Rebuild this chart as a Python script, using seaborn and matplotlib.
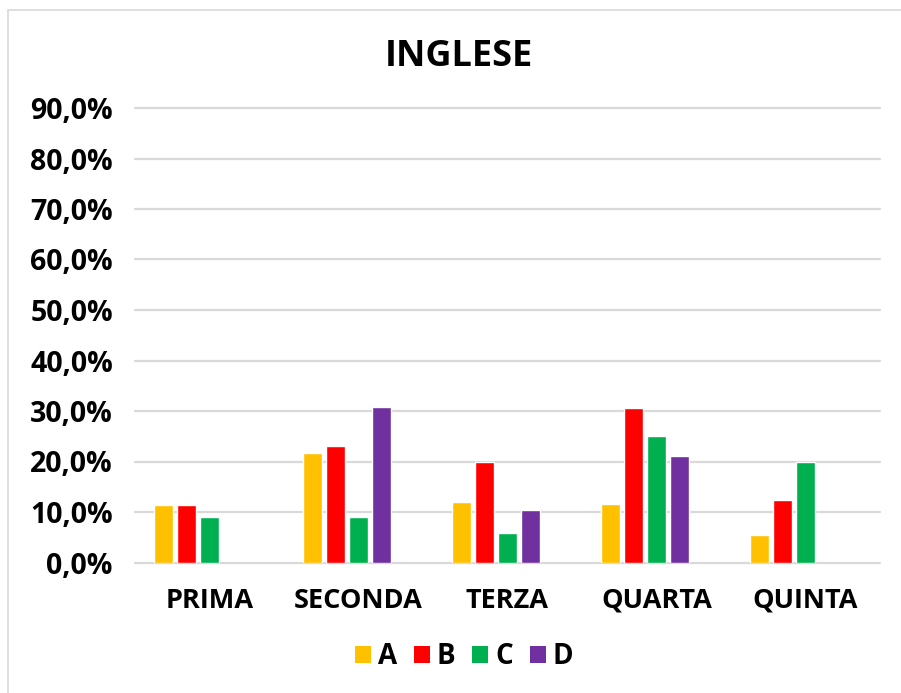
import numpy as np
import pandas as pd
import matplotlib
matplotlib.use("Agg")
import matplotlib.pyplot as plt
import seaborn as sns
from matplotlib.patches import Patch, Rectangle
from matplotlib.ticker import FuncFormatter

# values (fractions); D missing for PRIMA and QUINTA
classes = ["PRIMA", "SECONDA", "TERZA", "QUARTA", "QUINTA"]
level_a = [0.114, 0.217, 0.119, 0.116, 0.054]
level_b = [0.114, 0.230, 0.199, 0.305, 0.124]
level_c = [0.090, 0.090, 0.058, 0.250, 0.200]
level_d = [np.nan, 0.308, 0.104, 0.210, np.nan]
# the source chart keeps an empty fifth series slot
level_e = [np.nan] * 5

series = ["A", "B", "C", "D", "E"]
colors = {"A": "#FFC000", "B": "#FF0000", "C": "#00B050", "D": "#7030A0", "E": "#FFFFFF"}

df = pd.DataFrame({"classe": classes, "A": level_a, "B": level_b,
                   "C": level_c, "D": level_d, "E": level_e})
long = df.melt(id_vars="classe", var_name="livello", value_name="quota")

sns.set_style("white")
plt.rcParams["font.family"] = ["Open Sans", "DejaVu Sans"]
plt.rcParams["font.weight"] = "bold"
plt.rcParams["text.color"] = "black"
plt.rcParams["xtick.color"] = "black"
plt.rcParams["ytick.color"] = "black"

fig = plt.figure(figsize=(9.01, 6.93), dpi=100)
ax = fig.add_axes([135 / 901, (693 - 562.5) / 693, 745 / 901, 454.5 / 693])

sns.barplot(data=long, x="classe", y="quota", hue="livello", order=classes,
            hue_order=series, palette=colors, width=0.772, gap=0.18,
            saturation=1, legend=False, ax=ax)

ax.set_ylim(0, 0.9)
ax.set_xlim(-0.5, 4.5)
ax.set_yticks(np.arange(0, 0.91, 0.1))
ax.yaxis.set_major_formatter(FuncFormatter(lambda v, p: f"{v * 100:.1f}%".replace(".", ",")))
for t in np.arange(0, 0.91, 0.1):
    ax.axhline(t, color="#D9D9D9", lw=1.6, zorder=0, clip_on=False)
for s in ax.spines.values():
    s.set_visible(False)
ax.set_xlabel("")
ax.set_ylabel("")
ax.tick_params(axis="x", length=0, pad=18, labelsize=19.5)
ax.tick_params(axis="y", length=0, pad=16, labelsize=20.5)
for lbl in ax.get_xticklabels() + ax.get_yticklabels():
    lbl.set_fontweight("bold")

fig.text(459 / 901, 1 - 57 / 693, "INGLESE", ha="center", va="center",
         fontsize=26, fontweight="bold")

handles = [Patch(facecolor=colors[s], edgecolor="none", label=s) for s in series[:4]]
leg = fig.legend(handles=handles, loc="center", bbox_to_anchor=(464 / 901, 1 - 657 / 693),
                 ncol=4, frameon=False, handlelength=0.58, handleheight=0.58,
                 handletextpad=0.25, columnspacing=0.6, prop={"size": 20, "weight": "bold"})

# light frame around the chart area
fig.patches.append(Rectangle((8 / 901, -0.01), 1.0, 1 - 10 / 693 + 0.01,
                             transform=fig.transFigure, fill=False,
                             edgecolor="#D9D9D9", lw=1.2))

fig.savefig("out.png", dpi=100)
